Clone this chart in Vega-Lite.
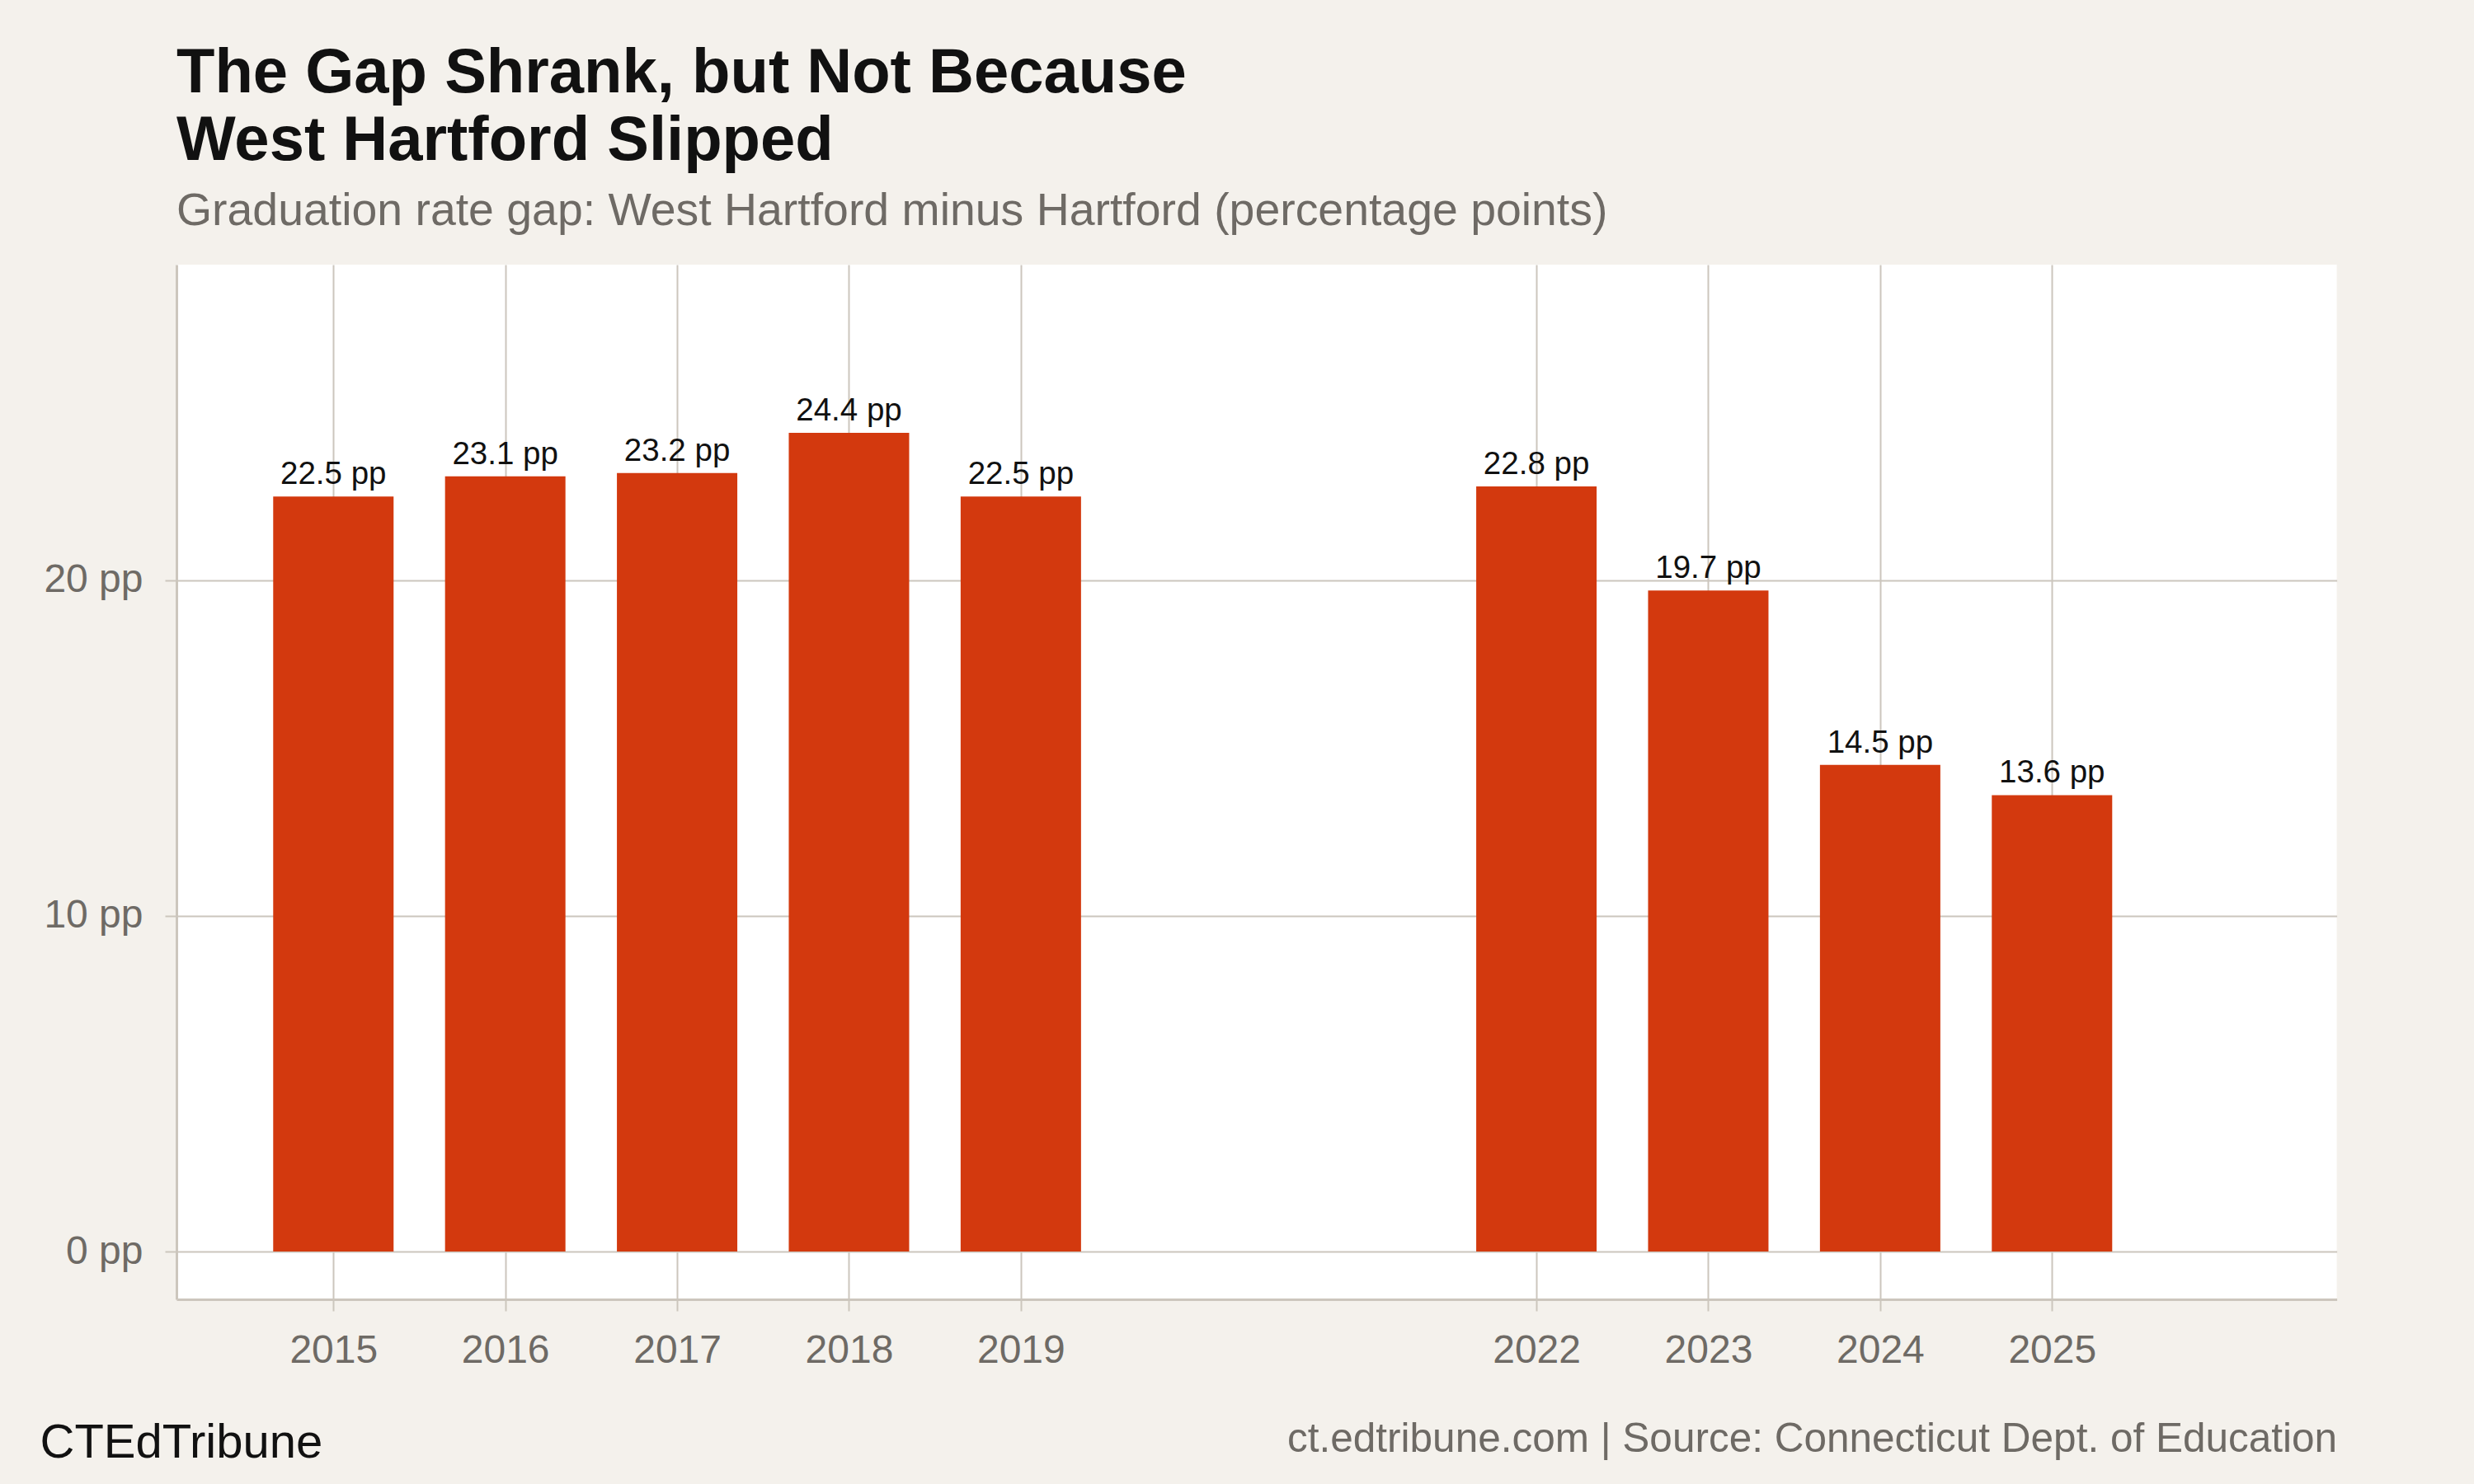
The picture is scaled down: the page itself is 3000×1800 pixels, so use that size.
{
  "$schema": "https://vega.github.io/schema/vega-lite/v6.json",
  "autosize": {"type": "none"},
  "width": 2619.6,
  "height": 1255,
  "padding": {"left": 214, "top": 321, "right": 166.4, "bottom": 224},
  "background": "#F4F1EC",
  "view": {"fill": "#FFFFFF", "stroke": null},
  "title": {
    "text": ["The Gap Shrank, but Not Because", "West Hartford Slipped"],
    "subtitle": "Graduation rate gap: West Hartford minus Hartford (percentage points)",
    "anchor": "start",
    "frame": "group",
    "font": "Liberation Sans",
    "fontSize": 76,
    "fontWeight": "bold",
    "color": "#111111",
    "lineHeight": 82,
    "subtitleFont": "Liberation Sans",
    "subtitleFontSize": 55.4,
    "subtitleColor": "#6E6A65",
    "subtitlePadding": 19,
    "offset": 36
  },
  "data": {
    "values": [
      {"year": 2015, "gap": 22.5},
      {"year": 2016, "gap": 23.1},
      {"year": 2017, "gap": 23.2},
      {"year": 2018, "gap": 24.4},
      {"year": 2019, "gap": 22.5},
      {"year": 2022, "gap": 22.8},
      {"year": 2023, "gap": 19.7},
      {"year": 2024, "gap": 14.5},
      {"year": 2025, "gap": 13.6}
    ]
  },
  "transform": [
    {"calculate": "format(datum.gap, '.1f') + ' pp'", "as": "label"}
  ],
  "encoding": {
    "x": {
      "field": "year",
      "type": "quantitative",
      "scale": {"domain": [2014.111, 2026.633], "nice": false, "zero": false},
      "axis": {
        "values": [2015, 2016, 2017, 2018, 2019, 2022, 2023, 2024, 2025],
        "format": "d",
        "labelFontSize": 48,
        "labelPadding": 24,
        "title": "ct.edtribune.com | Source: Connecticut Dept. of Education",
        "titleX": 2619.6,
        "titleY": 184,
        "titleAlign": "right",
        "titleBaseline": "alphabetic",
        "titleFontSize": 49.5,
        "titleColor": "#6E6A65"
      }
    },
    "y": {
      "field": "gap",
      "type": "quantitative",
      "scale": {"domain": [-1.425, 29.41], "nice": false, "zero": false},
      "axis": {
        "values": [0, 10, 20],
        "labelExpr": "datum.value + ' pp'",
        "labelFontSize": 48,
        "labelPadding": 27,
        "title": "CTEdTribune",
        "titleAngle": 0,
        "titleAlign": "left",
        "titleBaseline": "alphabetic",
        "titleX": -166,
        "titleY": 1446,
        "titleFontSize": 58,
        "titleColor": "#111111"
      }
    }
  },
  "layer": [
    {
      "mark": {"type": "bar", "width": 146, "color": "#D3390E"},
      "encoding": {
        "y2": {"datum": 0}
      }
    },
    {
      "mark": {
        "type": "text",
        "baseline": "alphabetic",
        "align": "center",
        "dy": -15,
        "font": "Liberation Sans",
        "fontSize": 38.5,
        "color": "#111111"
      },
      "encoding": {
        "text": {"field": "label", "type": "nominal"}
      }
    }
  ],
  "config": {
    "font": "Liberation Sans",
    "axis": {
      "labelFont": "Liberation Sans",
      "labelColor": "#6E6A65",
      "titleFont": "Liberation Sans",
      "titleFontWeight": "normal",
      "tickSize": 14,
      "tickWidth": 2,
      "tickColor": "#CCC6BD",
      "domainColor": "#CCC6BD",
      "domainWidth": 3,
      "grid": true,
      "gridColor": "#CCC6BD",
      "gridWidth": 2
    }
  }
}
